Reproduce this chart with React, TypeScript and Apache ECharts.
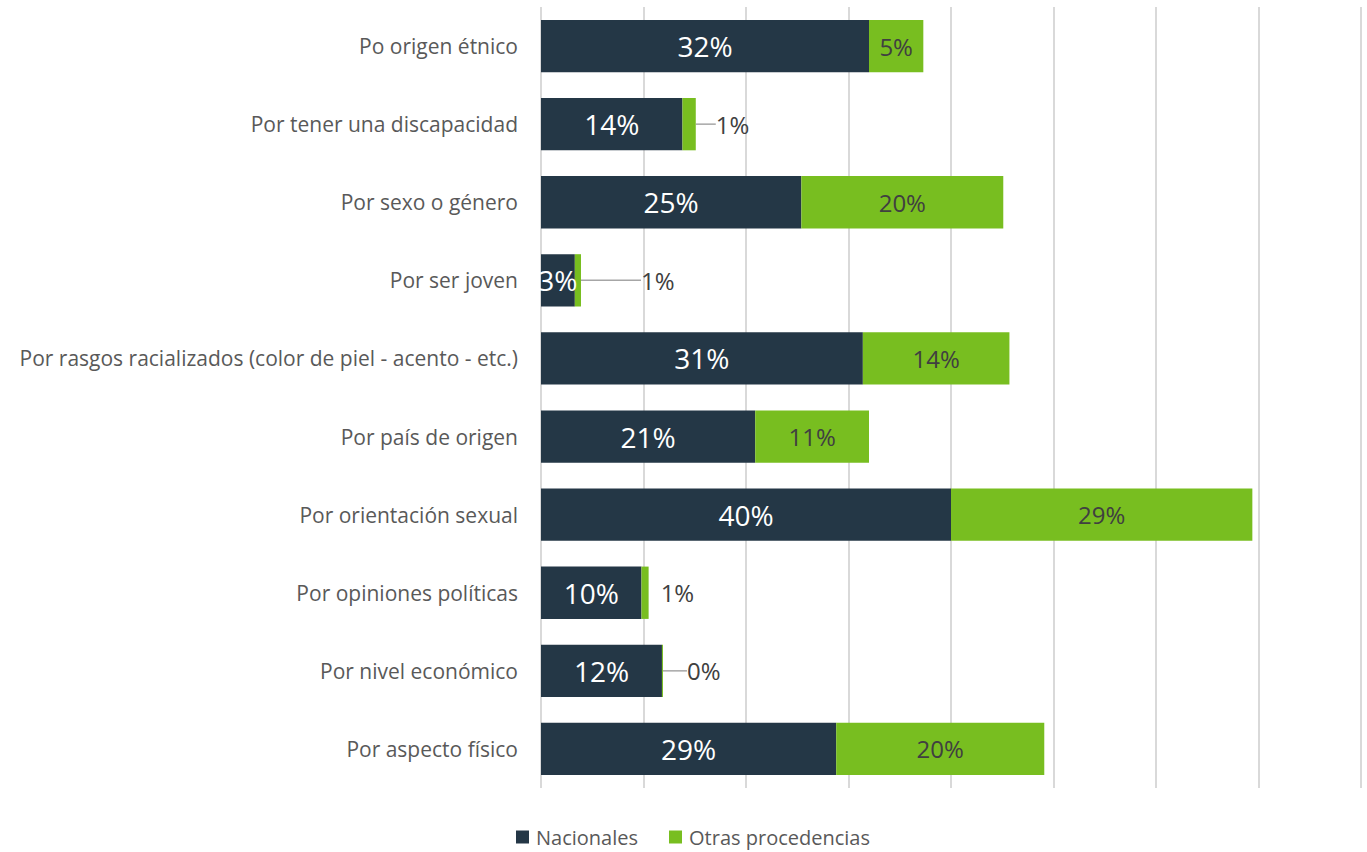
import React, { useEffect, useRef } from "react";
import * as echarts from "echarts";

const categories = [
  "Po origen étnico",
  "Por tener una discapacidad",
  "Por sexo o género",
  "Por ser joven",
  "Por rasgos racializados (color de piel - acento - etc.)",
  "Por país de origen",
  "Por orientación sexual",
  "Por opiniones políticas",
  "Por nivel económico",
  "Por aspecto físico",
];
const nacionales = [32.0, 13.8, 25.4, 3.3, 31.4, 20.9, 40.0, 9.8, 11.8, 28.8];
const otras = [5.3, 1.3, 19.7, 0.6, 14.3, 11.1, 29.4, 0.7, 0.1, 20.3];
const seriesNames = ["Nacionales", "Otras procedencias"];

const FONT = "'Open Sans', 'Noto Sans', sans-serif";

export default function App() {
  const ref = useRef<HTMLDivElement>(null);
  useEffect(() => {
    const chart = echarts.init(ref.current!, null, { renderer: "svg" });
    const outsideDx: Record<number, number> = { 1: 14, 3: 54, 8: 18 };
    const outsideDist: Record<number, number> = { 1: 6, 3: 6, 7: 12, 8: 6 };
    chart.setOption({
      animation: false,
      textStyle: { fontFamily: FONT },
      grid: { left: 541, right: 6, top: 7, bottom: 64, containLabel: false },
      legend: {
        top: 822,
        left: 511,
        icon: "rect",
        itemWidth: 13,
        itemHeight: 13,
        itemGap: 31,
        textStyle: { fontSize: 20, color: "#595959", fontFamily: FONT, padding: [0, 0, 0, 2] },
        data: seriesNames,
      },
      xAxis: {
        type: "value",
        min: 0,
        max: 80,
        interval: 10,
        axisLabel: { show: false },
        axisLine: { show: false },
        axisTick: { show: false },
        splitLine: { show: true, lineStyle: { color: "#d9d9d9", width: 2 } },
      },
      yAxis: {
        type: "category",
        inverse: true,
        data: categories,
        axisLine: { show: false },
        axisTick: { show: false },
        axisLabel: { fontSize: 21, color: "#595959", margin: 23, fontFamily: FONT },
      },
      series: [
        {
          name: seriesNames[0],
          type: "bar",
          stack: "a",
          barCategoryGap: "33%",
          itemStyle: { color: "#243746" },
          label: {
            show: true,
            position: "inside",
            color: "#ffffff",
            fontSize: 28,
            fontFamily: FONT,
            formatter: (p: any) => Math.round(p.value) + "%",
          },
          data: nacionales,
        },
        {
          name: seriesNames[1],
          type: "bar",
          stack: "a",
          itemStyle: { color: "#78be20" },
          label: {
            show: true,
            position: "inside",
            color: "#404040",
            fontSize: 24,
            fontFamily: FONT,
            formatter: (p: any) => Math.round(p.value) + "%",
          },
          labelLine: { show: true, lineStyle: { color: "#a6a6a6", width: 1.5 } },
          labelLayout: (p: any) => {
            const dx = outsideDx[p.dataIndex];
            return dx ? { dx } : {};
          },
          data: otras.map((v, i) =>
            v < 2
              ? {
                  value: v,
                  label: {
                    position: "right",
                    distance: outsideDist[i] ?? 6,
                    color: "#404040",
                    fontSize: 24,
                  },
                  labelLine: { show: outsideDx[i] !== undefined },
                }
              : v
          ),
        },
      ],
    });
    return () => chart.dispose();
  }, []);
  return (
    <div
      ref={ref}
      style={{ position: "absolute", left: 0, top: 0, width: 1367, height: 852 }}
    />
  );
}
